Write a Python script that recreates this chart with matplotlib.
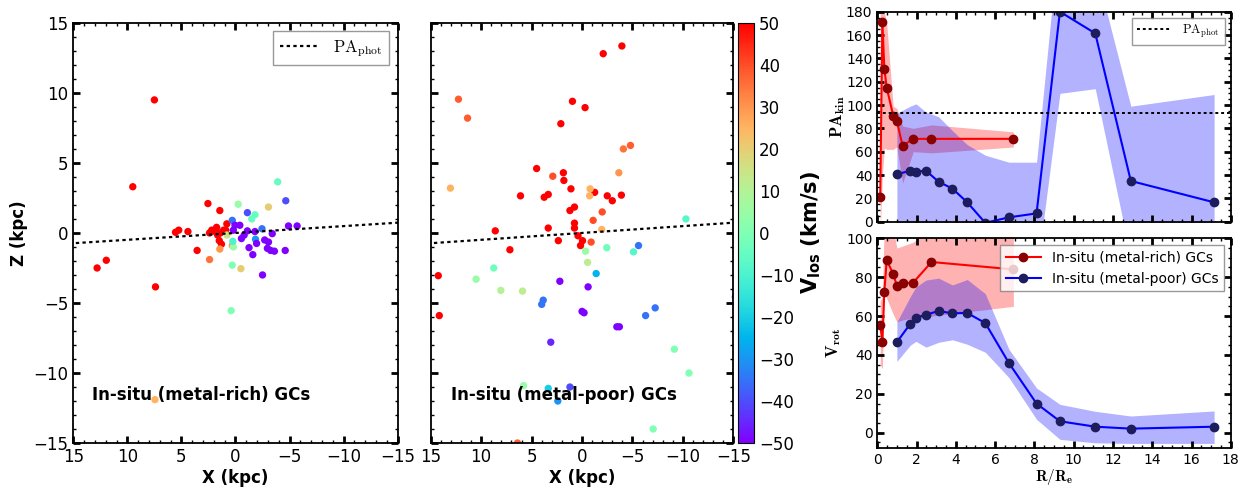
import numpy as np
import matplotlib
matplotlib.use("Agg")
import matplotlib.pyplot as plt
from matplotlib.ticker import MultipleLocator
from matplotlib.font_manager import FontProperties

plt.rcParams["mathtext.fontset"] = "dejavusans"

# photometric position angle (deg)
PA_phot = 92.8

# ---- in-situ metal-rich GCs: projected positions (kpc) and V_los (km/s)
rich_x = [7.5, 9.5, 12.8, 11.95, 7.4, 2.55, 1.45, 3.55, 5.55, 5.25, 4.4, 2.4, 2.2, 1.75, 1.9, 1.4, 1.1, 0.8, 1.5, 1.3, 0.9, 1.65,
          2.4, 1.45, 0.3, 7.45, -0.5, -3.05, 0.8,
          -0.25, 0.3, 0.4, 0.2, -3.9, -1.8, -1.5, 0.25,
          0.3, -1.1, -4.65, -2.45, -1.85,
          -4.9, -5.7, -3.4, -4.6, -2.5, -1.25, -1.6, -1.95, -2.7, -3.05, -2.95, -3.25, -3.6, 0.2, -0.4, 0.05, -0.55, -0.8, -1.1, -1.8]
rich_z = [9.5, 3.3, -2.5, -1.95, -3.85, 2.1, 1.6, -1.25, 0.05, 0.2, 0.1, 0.0, 0.2, 0.4, 0.1, 0.0, 0.2, 0.65, -0.55, -0.8, 0.2, -0.15,
          -1.9, -1.15, -0.9, -11.9, -2.55, 1.85, -0.15,
          2.05, -2.3, -5.55, -1.0, 3.65, 1.3, 1.0, -0.6,
          0.9, 1.45, 2.3, 0.3, -0.45,
          0.5, 0.5, -0.05, -1.25, -3.0, -1.05, -1.55, -0.75, -0.5, -0.65, -1.1, -1.25, -1.3, 0.2, 0.55, 0.55, -0.4, -0.15, 0.15, 0.1]
rich_v = [50, 50, 50, 50, 50, 50, 50, 50, 50, 50, 50, 50, 50, 50, 50, 50, 50, 50, 50, 50, 50, 50,
          35, 30, 30, 25, 20, 20, 15,
          5, 0, 0, 5, -5, -5, -5, -10,
          -35, -40, -40, -35, -30,
          -50, -50, -50, -50, -50, -50, -50, -50, -50, -50, -50, -50, -50, -50, -50, -50, -50, -50, -50, -50]

# ---- in-situ metal-poor GCs
poor_x = [-3.95, -2.1, 0.95, -0.3, 2.1, 4.5, 1.85, 1.8, 1.1, 6.1, 3.75, 3.35, -1.25, -2.5, -3.0, -3.9, 1.2, 0.75, 0.75, 0.75,
          3.35, 8.6, 0.4, -0.05, 0.15, 2.35, 7.15, 14.25, 14.15, 15.3,
          2.9, -2.0, -1.1, -0.9,
          12.25, 11.35, -4.1, -4.8, -3.65, 6.4,
          13.05, -0.8, -0.75, -1.95,
          -0.35, -0.55, -2.45, -5.1, -10.3, 8.75, 10.5, 8.05, 5.9, -9.15, -10.6, 5.8, -7.05,
          -1.4, -5.6, 3.85, 4.0, -6.3, -7.25, 3.35, 1.2, 2.4, 3.1, -15.2,
          2.2, -0.6, 0.0, -0.2, -3.45, -3.7]
poor_z = [13.35, 12.8, 9.4, 8.95, 7.8, 4.6, 4.3, 3.75, 3.15, 2.65, 2.55, 2.75, 2.9, 2.65, 2.3, 2.7, 1.6, 1.85, 0.7, 0.35,
          0.35, 0.15, -0.2, -0.55, -0.9, -0.55, -1.2, -3.05, -5.9, -8.8,
          4.05, 1.5, 0.9, -0.65,
          9.55, 8.2, 6.0, 6.25, 4.3, -15.0,
          3.2, 3.15, 2.65, 0.25,
          -1.3, -2.1, -1.05, -1.35, 1.0, -2.5, -3.3, -4.1, -4.15, -8.3, -10.0, -10.9, -14.0,
          -2.9, -0.9, -4.8, -5.1, -5.9, -5.35, -11.1, -11.0, -12.0, -7.8, -4.55,
          -3.45, -3.85, -5.6, -5.7, -6.7, -6.7]
poor_v = [50, 50, 50, 50, 50, 50, 50, 50, 50, 50, 50, 50, 50, 50, 50, 50, 50, 50, 50, 50,
          50, 50, 50, 50, 50, 50, 50, 50, 50, 50,
          40, 40, 40, 40,
          38, 38, 35, 38, 30, 38,
          25, 25, 25, 25,
          5, 12, -3, -8, -8, -3, 5, 10, 12, 0, 0, 5, 0,
          -25, -35, -35, -35, -35, -35, -20, -40, -30, -45, -45,
          -50, -50, -50, -50, -50, -50]

# ---- kinematic profiles vs R/Re
R_rich = [0.15, 0.26, 0.36, 0.48, 0.81, 1.0, 1.29, 1.83, 2.76, 6.93]
PA_rich = [21, 171, 131, 115, 91, 86, 65, 71, 71, 71]
PA_rich_lo = [-10, 40, 63, 62, 62, 64, 33, 60, 59, 64]
PA_rich_hi = [180, 180, 180, 170, 99, 97, 82, 80, 83, 77]
V_rich = [55.5, 46.9, 72.6, 88.8, 81.7, 75.5, 76.9, 77.2, 87.8, 84.0]
V_rich_lo = [35, 33, 72, 69, 61, 57, 58, 59, 60, 65]
V_rich_hi = [68, 70, 110, 110, 105, 95, 96, 98, 105, 105]

R_poor = [1.0, 1.68, 1.97, 2.48, 3.12, 3.83, 4.58, 5.5, 6.7, 8.11, 9.3, 11.1, 12.91, 17.15]
PA_poor = [40.6, 43.7, 42.9, 43.7, 34.3, 28.3, 16.6, -1.0, 3.7, 7.1, 180, 161.4, 34.9, 16.6]
PA_poor_lo = [-10, -10, -10, -10, -10, -10, -10, -10, -10, -45, 110, 114, -31, -20]
PA_poor_hi = [93, 99, 101, 94, 90, 78, 66, 57, 51, 51, 252, 218, 99, 109]
V_poor = [46.6, 56.0, 59.1, 60.7, 62.6, 61.4, 61.6, 56.4, 35.9, 15.0, 5.9, 3.1, 2.1, 3.1]
V_poor_lo = [36.7, 45, 47, 44, 46.5, 47.8, 45.5, 41.4, 28.4, 6.9, -3.4, -5.2, -5.5, -5.5]
V_poor_hi = [57, 70, 75, 78.5, 79.5, 76, 78.8, 71.5, 43, 23, 14.6, 11, 8.6, 11.2]


def style(ax, mx, nx, my, ny, size):
    ax.xaxis.set_major_locator(MultipleLocator(mx))
    ax.xaxis.set_minor_locator(MultipleLocator(nx))
    ax.yaxis.set_major_locator(MultipleLocator(my))
    ax.yaxis.set_minor_locator(MultipleLocator(ny))
    ax.tick_params(which="both", direction="in", top=True, right=True, labelsize=size)
    ax.tick_params(which="major", length=5, width=2)
    ax.tick_params(which="minor", length=2.5, width=1)
    for s in ax.spines.values():
        s.set_linewidth(1.3)


cm_big = FontProperties(size=12, math_fontfamily="cm")
cm_small = FontProperties(size=9, math_fontfamily="cm")
dots = (0, (1.5, 1.5))
tilt = np.tan(np.radians(PA_phot - 90))
xx = np.array([16, -16])

fig = plt.figure(figsize=(12.47, 4.87), dpi=100)
ax1 = fig.add_axes([0.0588, 0.0903, 0.2601, 0.8627])
ax2 = fig.add_axes([0.3454, 0.0903, 0.2427, 0.8627])
cax = fig.add_axes([0.592, 0.0903, 0.0127, 0.8627])
ax3 = fig.add_axes([0.7035, 0.5448, 0.2835, 0.4312])
ax4 = fig.add_axes([0.7035, 0.0795, 0.2835, 0.4312])

for ax, x, z, v, name in [(ax1, rich_x, rich_z, rich_v, "In-situ (metal-rich) GCs"),
                          (ax2, poor_x, poor_z, poor_v, "In-situ (metal-poor) GCs")]:
    sc = ax.scatter(x, z, c=v, cmap="rainbow", vmin=-50, vmax=50, s=28, edgecolors="none")
    ax.plot(xx, -xx * tilt, ls=dots, color="k", lw=1.6, label=r"$\rm PA_{phot}$")
    ax.set_xlim(15, -15)
    ax.set_ylim(-15, 15)
    style(ax, 5, 1, 5, 1, 12)
    ax.set_xlabel("X (kpc)", fontsize=12, fontweight="bold", labelpad=2)
    ax.text(0.058 if ax is ax1 else 0.068, 0.115, name, transform=ax.transAxes,
            fontsize=12, fontweight="bold", va="center", zorder=5)

ax1.set_ylabel("Z (kpc)", fontsize=12, fontweight="bold")
ax1.legend(loc="upper right", fancybox=False, edgecolor="0.5", prop=cm_big, handlelength=2.4)
ax2.set_yticklabels([])

cb = fig.colorbar(sc, cax=cax, ticks=np.arange(-50, 51, 10))
cb.ax.tick_params(labelsize=12, length=0)
cb.set_label(r"$\mathbf{V_{los}}$ (km/s)", fontsize=15, fontweight="bold", labelpad=4)

# PA_kin profile
ax3.fill_between(R_rich, PA_rich_lo, PA_rich_hi, color="red", alpha=0.3, lw=0)
ax3.fill_between(R_poor, PA_poor_lo, PA_poor_hi, color="blue", alpha=0.3, lw=0)
ax3.plot(R_rich, PA_rich, "-o", color="red", mfc="darkred", mec="darkred", ms=6, lw=1.5)
ax3.plot(R_poor, PA_poor, "-o", color="blue", mfc="#1c1c5e", mec="#1c1c5e", ms=6, lw=1.5)
ax3.axhline(PA_phot, ls=dots, color="k", lw=1.4, label=r"$\rm PA_{phot}$")
ax3.set_xlim(0, 18)
ax3.set_ylim(0, 180)
style(ax3, 2, 0.5, 20, 5, 10)
ax3.set_xticklabels([])
ax3.set_ylabel(r"$\mathbf{PA_{kin}}$", fontsize=12, math_fontfamily="cm", labelpad=-1)
ax3.legend(loc="upper right", fancybox=False, edgecolor="0.5", prop=cm_small, handlelength=2.8)

# V_rot profile
ax4.fill_between(R_rich, V_rich_lo, V_rich_hi, color="red", alpha=0.3, lw=0)
ax4.fill_between(R_poor, V_poor_lo, V_poor_hi, color="blue", alpha=0.3, lw=0)
ax4.plot(R_rich, V_rich, "-o", color="red", mfc="darkred", mec="darkred", ms=6, lw=1.5,
         label="In-situ (metal-rich) GCs")
ax4.plot(R_poor, V_poor, "-o", color="blue", mfc="#1c1c5e", mec="#1c1c5e", ms=6, lw=1.5,
         label="In-situ (metal-poor) GCs")
ax4.set_xlim(0, 18)
ax4.set_ylim(-8, 100)
style(ax4, 2, 0.5, 20, 5, 10)
ax4.set_xlabel(r"$\mathbf{R/R_e}$", fontsize=11, math_fontfamily="cm", labelpad=0)
ax4.set_ylabel(r"$\mathbf{V_{rot}}$", fontsize=12, math_fontfamily="cm", labelpad=2)
ax4.legend(loc="upper right", fancybox=False, edgecolor="0.5", fontsize=10, handlelength=2.5)

fig.savefig("out.png", dpi=100)
